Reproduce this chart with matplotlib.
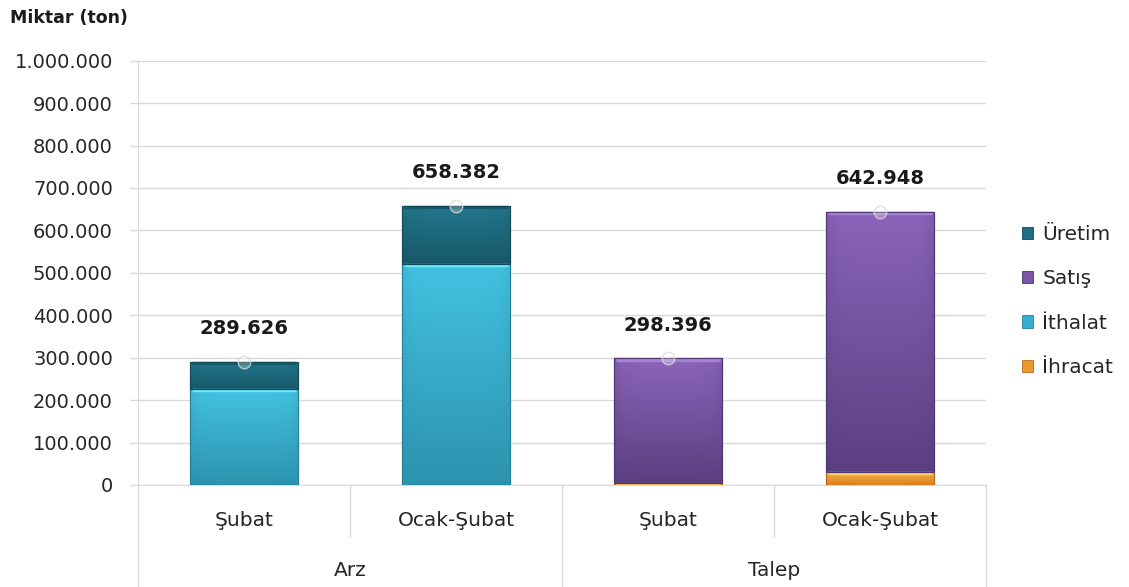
import numpy as np
import matplotlib
matplotlib.use("Agg")
import matplotlib.pyplot as plt
from matplotlib.colors import LinearSegmentedColormap
from matplotlib.patches import Patch
from matplotlib.ticker import FuncFormatter, MultipleLocator
import matplotlib.transforms as mtransforms

plt.rcParams['font.family'] = ['DejaVu Sans']

# ---- data ----
groups = ["Arz", "Talep"]
periods = ["Şubat", "Ocak-Şubat", "Şubat", "Ocak-Şubat"]
ihracat = [0, 0, 4000, 31000]
ithalat = [226000, 522000, 0, 0]
satis = [0, 0, 294396, 611948]
uretim = [63626, 136382, 0, 0]
series_names = ["İhracat", "İthalat", "Satış", "Üretim"]

# colors: (top, bottom) gradient
grad = {
    "İhracat": ("#f7b84a", "#dc8020"),
    "İthalat": ("#43c3e2", "#2c93ae"),
    "Satış": ("#8b64ba", "#5b3f80"),
    "Üretim": ("#22778c", "#175868"),
}
highlight = {
    "İhracat": "#ffd36a",
    "İthalat": "#6feaff",
    "Satış": "#a886d6",
    "Üretim": "#16566a",
}
edge = {
    "İhracat": "#b9681a",
    "İthalat": "#257f97",
    "Satış": "#4e3670",
    "Üretim": "#124a58",
}
legend_color = {
    "Üretim": "#1f6e82",
    "Satış": "#7a56a6",
    "İthalat": "#36b0d0",
    "İhracat": "#ec9a2c",
}

fig = plt.figure(figsize=(11.29, 5.87), dpi=100)
ax = fig.add_axes([138/1129, 1-485/587, (986-138)/1129, (485-60.7)/587])

x = np.arange(len(periods))
width = 0.51
data = {"İhracat": ihracat, "İthalat": ithalat, "Satış": satis, "Üretim": uretim}
bottom = np.zeros(len(periods))
patches_all = []
for name in series_names:
    vals = np.array(data[name], dtype=float)
    bars = ax.bar(x, vals, width, bottom=bottom, color=grad[name][0],
                  edgecolor=edge[name], linewidth=0.8, zorder=3)
    for p in bars:
        if p.get_height() <= 0:
            continue
        patches_all.append((p, name))
    bottom = bottom + vals
totals = bottom

# gradient fills clipped to bars
for p, name in patches_all:
    cmap = LinearSegmentedColormap.from_list("g", [grad[name][1], grad[name][0]])
    x0, y0 = p.get_x(), p.get_y()
    w, h = p.get_width(), p.get_height()
    img = np.linspace(0, 1, 256).reshape(-1, 1)
    horiz = 1 - 0.25 * np.abs(np.linspace(-1, 1, 64)) ** 6
    img2 = img * horiz.reshape(1, -1)
    im = ax.imshow(img2, cmap=cmap, origin='lower', aspect='auto',
                   extent=[x0, x0 + w, y0, y0 + h], zorder=3.5, vmin=0, vmax=1)
    im.set_clip_path(p)
    # bevel highlight at top of segment
    ax.plot([x0 + w * 0.015, x0 + w * 0.985], [y0 + h, y0 + h], color=highlight[name],
            lw=2.4, alpha=0.95, zorder=3.8, solid_capstyle='butt',
            transform=ax.transData + mtransforms.ScaledTranslation(0, -1.2/100, fig.dpi_scale_trans))
    ax.add_patch(plt.Rectangle((x0, y0), w, h, fill=False, edgecolor=edge[name], lw=0.8, zorder=4))

ax.set_xlim(-0.5, 3.5)
ax.set_ylim(0, 1000000)
ax.set_aspect('auto')

# total markers and labels
ax.plot(x, totals, 'o', markersize=9, markerfacecolor=(1, 1, 1, 0.25),
        markeredgecolor=(0.85, 0.85, 0.85, 0.8), markeredgewidth=1, zorder=5, linestyle='none')
for xi, t in zip(x, totals):
    ax.annotate(f"{int(round(t)):,}".replace(",", "."), (xi, t), xytext=(0, 24),
                textcoords='offset points', ha='center', va='center',
                fontsize=14, fontweight='bold', color='#1a1a1a', zorder=6)

# y axis
ax.yaxis.set_major_locator(MultipleLocator(100000))
ax.yaxis.set_major_formatter(FuncFormatter(lambda v, p: f"{int(v):,}".replace(",", ".")))
ax.tick_params(axis='y', length=6, color='#d9d9d9', width=1, labelsize=14,
               labelcolor='#262626', pad=12)
ax.grid(axis='y', color='#d9d9d9', lw=1, zorder=0)
ax.set_axisbelow(True)
ax.set_xticks([])
for s in ['top', 'right']:
    ax.spines[s].set_visible(False)
ax.spines['left'].set_color('#d9d9d9')
ax.spines['bottom'].set_color('#d9d9d9')

# two-level category axis
trans = mtransforms.blended_transform_factory(ax.transData, ax.transAxes)
ax_h_px = 485 - 60.7
def ay(py):
    return (485 - py) / ax_h_px

for xs in [0.5, 2.5]:
    ax.plot([xs, xs], [0, ay(537)], color='#d9d9d9', lw=1, transform=trans, clip_on=False)
for xs in [-0.5, 1.5, 3.5]:
    ax.plot([xs, xs], [0, ay(600)], color='#d9d9d9', lw=1, transform=trans, clip_on=False)
for xi, lab in zip(x, periods):
    ax.text(xi, ay(520), lab, transform=trans, ha='center', va='center',
            fontsize=14.5, color='#262626')
for gi, g in enumerate(groups):
    ax.text(gi * 2 + 0.5, ay(570), g, transform=trans, ha='center', va='center',
            fontsize=14.5, color='#262626')

# axis title
fig.text(10/1129, 1 - 18/587, "Miktar (ton)", ha='left', va='center',
         fontsize=12.5, fontweight='bold', color='#1a1a1a')

# legend
handles = [Patch(facecolor=legend_color[n], edgecolor=edge[n], lw=0.6, label=n)
           for n in ["Üretim", "Satış", "İthalat", "İhracat"]]
fig.legend(handles=handles, loc='center left', bbox_to_anchor=(1004/1129, 1 - 301/587),
           frameon=False, fontsize=14.5, handlelength=0.55, handleheight=0.55,
           handletextpad=0.45, labelspacing=1.25, labelcolor='#262626')

fig.savefig("out.png", dpi=100)
